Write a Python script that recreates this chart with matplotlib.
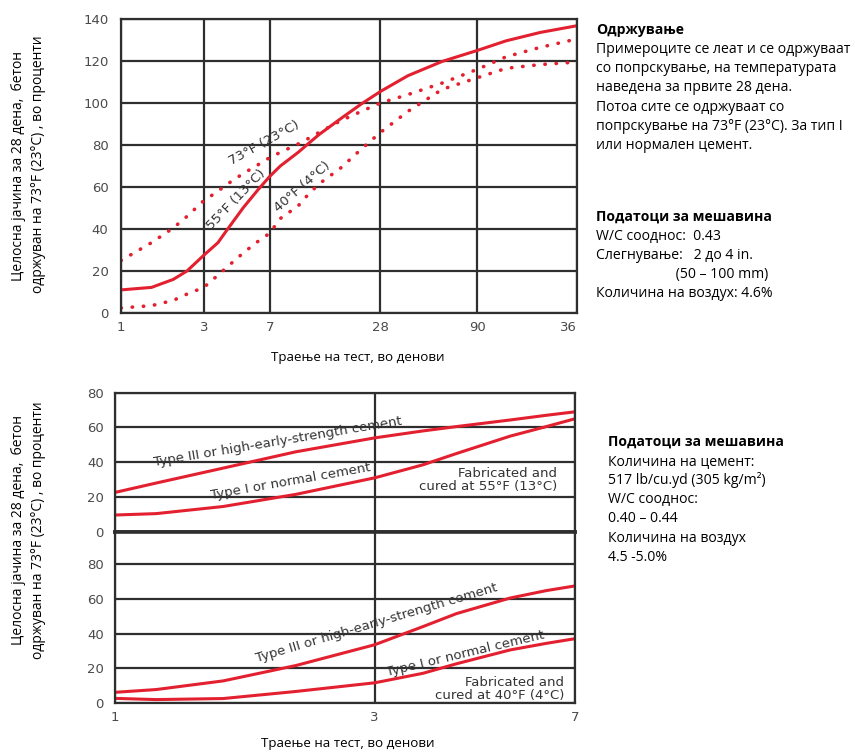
import numpy as np
import matplotlib.pyplot as plt
from matplotlib.ticker import FixedLocator, NullLocator, FixedFormatter

# top chart: strength (percent of 28-day strength at 73F) vs test age, days
days_top = [1, 1.5, 2, 2.4, 3, 3.6, 4, 5, 6, 7, 8, 10, 11.3, 13, 17, 22, 28, 39, 59, 90, 135, 218, 365]
cured_55F = [11, 12.2, 16, 20, 27.5, 33.5, 39, 50.3, 58.5, 65, 70, 76.5, 80.5, 85, 92.5, 99.5,
             105.5, 113, 119.8, 125, 129.6, 133.6, 136.8]
cured_73F = [25, 33.5, 40.5, 46, 53.5, 58, 61, 66.5, 70.5, 74, 76.5, 80.5, 83, 86, 91.5, 96,
             100, 104, 109.5, 116, 122, 126.5, 130.5]
cured_40F = [2.4, 3.5, 6, 9, 12.2, 18, 21.5, 28.7, 34, 38, 45, 51, 56.3, 61.5, 69, 78,
             86, 96, 106.5, 112, 116.5, 118.3, 119.5]
top_ticks = [1, 3, 7, 28, 90, 365]
top_tick_labels = ['1', '3', '7', '28', '90', '36']
top_yticks = [0, 20, 40, 60, 80, 100, 120, 140]

# bottom chart: early strength, two cement types, two curing temperatures
days_bot = [1, 1.19, 1.58, 2.15, 3, 3.68, 4.24, 5.32, 6.2, 7]
type3_55F = [22.6, 28, 36.6, 46, 54, 58, 60.5, 64.3, 67, 69]
type1_55F = [9.6, 10.4, 14.5, 21.5, 31, 38.5, 45, 55, 60.5, 65]
type3_40F = [6, 7.6, 12.6, 21.5, 33.5, 44, 51.5, 60.5, 64.8, 67.5]
type1_40F = [2.5, 1.8, 2.4, 6.5, 11.5, 17, 22.5, 30.5, 34.3, 37]
bot_ticks = [1, 3, 7]
bot_yticks = [0, 20, 40, 60, 80]

W, H = 855, 752
RED = '#e3202f'
GRID = '#2e2e2e'
TXT = '#333333'
TICK = '#4a4a4a'
chart_font = ['DejaVu Sans']
doc_font = ['Open Sans', 'DejaVu Sans']

# the printed top chart has slightly uneven spacing of its day gridlines
top_tick_frac = [0, 0.1816, 0.326, 0.569, 0.781, 1.0]


def top_fwd(x):
    return np.interp(np.log10(np.clip(x, 1e-6, None)), np.log10(top_ticks), top_tick_frac)


def top_inv(f):
    return 10 ** np.interp(f, top_tick_frac, np.log10(top_ticks))


fig = plt.figure(figsize=(W / 100, H / 100), dpi=100)


def px_axes(left, top, right, bottom):
    return fig.add_axes([left / W, 1 - bottom / H, (right - left) / W, (bottom - top) / H])


def style(ax, xticks, xlabels, yticks, ylim, xlim, ypad):
    ax.set_xlim(*xlim)
    ax.set_ylim(*ylim)
    ax.xaxis.set_major_locator(FixedLocator(xticks))
    ax.xaxis.set_minor_locator(NullLocator())
    ax.xaxis.set_major_formatter(FixedFormatter(xlabels))
    ax.yaxis.set_major_locator(FixedLocator(yticks))
    ax.grid(True, color=GRID, lw=1.6)
    for s in ax.spines.values():
        s.set_color(GRID)
        s.set_linewidth(1.6)
    ax.tick_params(length=0, labelsize=9.5, colors=TICK)
    ax.tick_params(axis='y', pad=ypad)
    ax.tick_params(axis='x', pad=6)
    for lab in ax.get_xticklabels() + ax.get_yticklabels():
        lab.set_family(chart_font)


def note(ax, x, y, s, rot=0, **kw):
    ax.text(x, y, s, rotation=rot, ha=kw.pop('ha', 'center'), va='center', fontsize=9.5,
            color=TXT, family=chart_font, rotation_mode='anchor', **kw)


dots = dict(color=RED, lw=2.6, ls=(0, (0.1, 3.0)), dash_capstyle='round')
solid = dict(color=RED, lw=2.2, solid_joinstyle='round')

# ---- top chart
ax = px_axes(121, 19, 577, 313)
ax.set_xscale('function', functions=(top_fwd, top_inv))
style(ax, top_ticks, top_tick_labels, top_yticks, (0, 140), (1, 365), 9)
ax.get_xticklabels()[-1].set_horizontalalignment('right')
ax.plot(days_top, cured_55F, **solid)
ax.plot(days_top, cured_73F, **dots)
ax.plot(days_top, cured_40F, **dots)
note(ax, 6.5, 81, '73°F (23°C)', 29)
note(ax, 4.55, 54, '55°F (13°C)', 46)
note(ax, 10.5, 60, '40°F (4°C)', 41)

fig.text(358 / W, 1 - 357 / H, 'Траење на тест, во денови', ha='center', va='center', fontsize=9.6, family=doc_font)
fig.text(19 / W, 1 - 166 / H, 'Целосна јачина за 28 дена,  бетон', rotation=90, ha='center', va='center',
         fontsize=10, family=doc_font)
fig.text(39 / W, 1 - 164 / H, 'одржуван на 73°F (23°C) , во проценти', rotation=90, ha='center', va='center',
         fontsize=10, family=doc_font)

# ---- bottom chart, two stacked panels sharing one scale
ax_hi = px_axes(115, 392.7, 575, 531.7)
ax_hi.set_xscale('log')
style(ax_hi, bot_ticks, ['', '', ''], bot_yticks, (0, 80), (1, 7), 8)
ax_hi.spines['bottom'].set_linewidth(2.6)
ax_hi.plot(days_bot, type3_55F, **solid)
ax_hi.plot(days_bot, type1_55F, **solid)
note(ax_hi, 1.99, 52, 'Type III or high-early-strength cement', 9.5)
note(ax_hi, 2.1, 29, 'Type I or normal cement', 10)
note(ax_hi, 6.49, 29.6, 'Fabricated and\ncured at 55°F (13°C)', ha='right', multialignment='right',
     linespacing=1.0)

ax_lo = px_axes(115, 531.7, 575, 702.7)
ax_lo.set_xscale('log')
style(ax_lo, bot_ticks, ['1', '3', '7'], bot_yticks, (0, 171 / 1.73), (1, 7), 8)
ax_lo.spines['top'].set_linewidth(2.6)
ax_lo.plot(days_bot, type3_40F, **solid)
ax_lo.plot(days_bot, type1_40F, **solid)
note(ax_lo, 3.03, 46, 'Type III or high-early-strength cement', 16.5)
note(ax_lo, 4.41, 28.5, 'Type I or normal cement', 13.5)
note(ax_lo, 6.68, 8.1, 'Fabricated and\ncured at 40°F (4°C)', ha='right', multialignment='right',
     linespacing=1.0)

fig.text(348 / W, 1 - 743 / H, 'Траење на тест, во денови', ha='center', va='center', fontsize=9.6, family=doc_font)
fig.text(19 / W, 1 - 530 / H, 'Целосна јачина за 28 дена,  бетон', rotation=90, ha='center', va='center',
         fontsize=10, family=doc_font)
fig.text(39 / W, 1 - 530 / H, 'одржуван на 73°F (23°C) , во проценти', rotation=90, ha='center', va='center',
         fontsize=10, family=doc_font)

# ---- side notes
notes_top = [
    ('Одржување', True),
    ('Примероците се леат и се одржуваат', False),
    ('со попрскување, на температурата', False),
    ('наведена за првите 28 дена.', False),
    ('Потоа сите се одржуваат со', False),
    ('попрскување на 73°F (23°C). За тип I', False),
    ('или нормален цемент.', False),
]
for i, (line, bold) in enumerate(notes_top):
    fig.text(596 / W, 1 - (30 + 19.3 * i) / H, line, ha='left', va='center', fontsize=10.1,
             fontweight='bold' if bold else 'normal', family=doc_font)

notes_mix = [
    ('Податоци за мешавина', True),
    ('W/C сооднос:  0.43', False),
    ('Слегнување:   2 до 4 in.', False),
    ('                      (50 – 100 mm)', False),
    ('Количина на воздух: 4.6%', False),
]
for i, (line, bold) in enumerate(notes_mix):
    fig.text(596 / W, 1 - (217 + 19.2 * i) / H, line, ha='left', va='center', fontsize=10.1,
             fontweight='bold' if bold else 'normal', family=doc_font)

notes_bot = [
    ('Податоци за мешавина', True),
    ('Количина на цемент:', False),
    ('517 lb/cu.yd (305 kg/m²)', False),
    ('W/C сооднос:', False),
    ('0.40 – 0.44', False),
    ('Количина на воздух', False),
    ('4.5 -5.0%', False),
]
for i, (line, bold) in enumerate(notes_bot):
    fig.text(608 / W, 1 - (442 + 19.2 * i) / H, line, ha='left', va='center', fontsize=10.1,
             fontweight='bold' if bold else 'normal', family=doc_font)

fig.savefig('out.png', dpi=100)
